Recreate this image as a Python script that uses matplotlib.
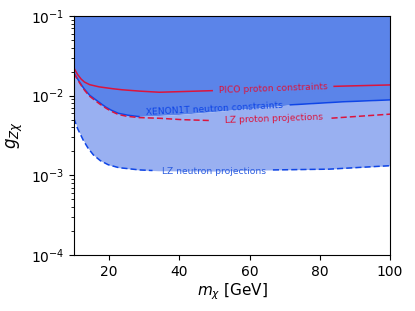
import numpy as np
import matplotlib
import matplotlib.pyplot as plt

matplotlib.use("Agg")

# (mass in GeV, coupling)
m_pico = [10, 11, 12, 13, 14.5, 17, 19.7, 23, 27.3, 34, 48.7, 70, 85, 100]
g_pico = [0.0223, 0.0185, 0.0162, 0.0148, 0.0137, 0.0129, 0.0124, 0.0119, 0.01148, 0.0110, 0.0115, 0.0124, 0.0131, 0.0136]

m_xe = [10, 11, 12, 13, 14.5, 16.9, 19, 20.5, 22.6, 25, 28.3, 40, 50, 60, 71.5, 85, 100]
g_xe = [0.0193, 0.0163, 0.0139, 0.0120, 0.0101, 0.0084, 0.0072, 0.0066, 0.0060, 0.0057, 0.00546, 0.0058, 0.0063, 0.0069, 0.00764, 0.0083, 0.00883]

m_lzp = [10, 11, 12, 13, 14.5, 16.9, 19, 20.5, 22.6, 25, 28.3, 34, 40, 49.2, 60, 70, 83.4, 100]
g_lzp = [0.0190, 0.0160, 0.0136, 0.0117, 0.0098, 0.0081, 0.0070, 0.0064, 0.0058, 0.0055, 0.0053, 0.00521, 0.0050, 0.00486, 0.0049, 0.0050, 0.00521, 0.00585]

m_lzn = [10, 11, 12.6, 14, 15.5, 17.5, 19.7, 22.6, 28.3, 34, 50, 67.2, 82, 100]
g_lzn = [0.0052, 0.0039, 0.00279, 0.00220, 0.00181, 0.00153, 0.00136, 0.00125, 0.00117, 0.00114, 0.00113, 0.00117, 0.00119, 0.00132]

red = "#dc143c"
blue = "#0f45e6"
dark = "#5b84e9"
light = "#99b0f1"

m = np.linspace(10, 100, 600)


def curve(mx, gx):
    return 10 ** np.interp(m, mx, np.log10(gx))


pico = curve(m_pico, g_pico)
xe = curve(m_xe, g_xe)
lzp = curve(m_lzp, g_lzp)
lzn = curve(m_lzn, g_lzn)


def gap(y, lo, hi):
    y = y.copy()
    y[(m > lo) & (m < hi)] = np.nan
    return y


fig = plt.figure(figsize=(4.15, 3.11), dpi=100)
ax = fig.add_axes([0.178, 0.18, 0.762, 0.769])

ax.fill_between(m, xe, 0.1, color=dark, lw=0)
ax.fill_between(m, lzn, xe, color=light, lw=0)

ax.plot(m, gap(pico, 49.5, 84), color=red, lw=1.1)
ax.plot(m, gap(xe, 28.5, 71.5), color=blue, lw=1.1)
ax.plot(m, gap(lzp, 49.3, 83.3), color=red, lw=1.1, ls="--", dashes=(4, 2))
ax.plot(m, gap(lzn, 32.5, 66.5), color=blue, lw=1.1, ls="--", dashes=(4, 2))

fs = 6.6
ax.text(66.8, 0.0123, "PICO proton constraints", color=red, fontsize=fs,
        ha="center", va="center", rotation=2)
ax.text(50, 0.00672, "XENON1T neutron constraints", color=blue, fontsize=fs,
        ha="center", va="center", rotation=3)
ax.text(67, 0.00515, "LZ proton projections", color=red, fontsize=fs,
        ha="center", va="center", rotation=2)
ax.text(50, 0.00113, "LZ neutron projections", color="#2a5ce0", fontsize=fs,
        ha="center", va="center", rotation=0)

ax.set_yscale("log")
ax.set_xlim(10, 100)
ax.set_ylim(1e-4, 1e-1)
ax.set_xticks([20, 40, 60, 80, 100])
ax.tick_params(labelsize=10)
ax.set_xlabel(r"$m_\chi$ [GeV]", fontsize=11, labelpad=2)
ax.set_ylabel(r"$g_{Z\chi}$", fontsize=12, labelpad=4)

plt.savefig("out.png", dpi=100)
